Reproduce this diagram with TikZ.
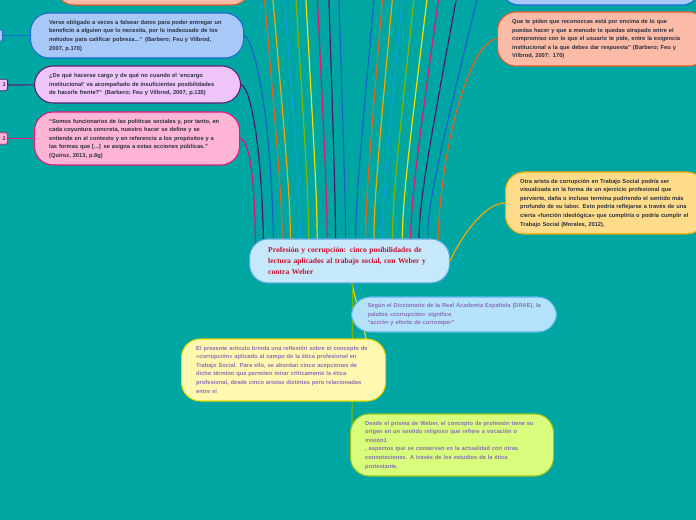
\documentclass[tikz,border=0pt]{standalone}
\usepackage{fontspec}
\setmainfont{Liberation Sans}
\newfontfamily\titlefont{Liberation Serif}
\usetikzlibrary{calc,backgrounds}
\definecolor{sea}{HTML}{00A6A1}
\definecolor{ink}{HTML}{2E3040}
\definecolor{lav}{HTML}{8A70B4}
\definecolor{rouge}{HTML}{C8102E}
\definecolor{salF}{HTML}{FBBBA6}\definecolor{salB}{HTML}{E95C2B}
\definecolor{bluF}{HTML}{A8C8F8}\definecolor{bluB}{HTML}{1D6BD6}
\definecolor{purF}{HTML}{EEC4F9}\definecolor{purB}{HTML}{5E2171}
\definecolor{pnkF}{HTML}{FDB4D5}\definecolor{pnkB}{HTML}{E3197D}
\definecolor{ambF}{HTML}{FEDC8A}\definecolor{ambB}{HTML}{F2A900}
\definecolor{ctrF}{HTML}{C5E9FB}\definecolor{ctrB}{HTML}{56A8E0}
\definecolor{skyF}{HTML}{B4E2FA}\definecolor{skyB}{HTML}{57B6EA}
\definecolor{ylwF}{HTML}{FFF8B0}\definecolor{ylwB}{HTML}{E8D900}
\definecolor{limF}{HTML}{D8FD7C}\definecolor{limB}{HTML}{9DC41B}
% connector colours
\definecolor{lnOr}{HTML}{E8601C}
\definecolor{lnAm}{HTML}{F5A800}
\definecolor{lnLb}{HTML}{10A0E0}
\definecolor{lnGr}{HTML}{7EB800}
\definecolor{lnYe}{HTML}{F2E000}
\definecolor{lnPk}{HTML}{E5137A}
\definecolor{lnPu}{HTML}{4E1A6E}
\definecolor{lnBl}{HTML}{1B63C6}
\newcommand{\mmtext}[1]{\begin{tabular}{@{}l@{}}#1\end{tabular}}

\begin{document}
\begin{tikzpicture}[x=0.75pt,y=-0.75pt,
  idea/.style={rectangle,rounded corners=14pt,line width=0.8pt,anchor=west,
               inner xsep=11pt,inner ysep=0pt,align=left,text=ink,
               font=\fontsize{4.3}{6.4}\selectfont\bfseries},
  tag/.style={rectangle,rounded corners=1.5pt,line width=0.6pt,anchor=east,
              inner xsep=1.5pt,inner ysep=0pt,minimum height=8.5pt,
              text width=8pt,align=right,
              font=\fontsize{4}{5}\selectfont\bfseries,text=purB},
  wire/.style={line width=0.9pt}
]
\useasboundingbox (0,0) rectangle (696,520);

% nodes cut by the top edge
\node[idea,draw=salB,fill=salF,text width=124pt,minimum height=34.5pt] (tl) at (55,-18) {};
\node[idea,draw=bluB,fill=bluF,text width=128pt,minimum height=33.75pt] (tr) at (500,-17.5) {};

% left branch
\node[idea,draw=bluB,fill=bluF,inner xsep=14pt,text width=131.75pt,minimum height=33.75pt] (verse) at (30,35.5)
  {\mmtext{Verse obligado a veces a falsear datos para poder entregar un\\
   beneficio a alguien que lo necesita, por lo inadecuado de los\\
   métodos para calificar pobreza...” (Barbero; Feu y Vilbrod,\\
   2007, p.170)}};
\node[idea,draw=purB,fill=purF,text width=132.5pt,minimum height=27.75pt] (deque) at (34,84.5)
  {\mmtext{¿De qué hacerse cargo y de qué no cuando el ‘encargo\\
   institucional’ va acompañado de insuficientes posibilidades\\
   de hacerle frente?” (Barbero; Feu y Vilbrod, 2007, p.135)}};
\node[idea,draw=pnkB,fill=pnkF,text width=131.75pt,minimum height=39.75pt] (somos) at (34,138.5)
  {\mmtext{“Somos funcionarios de las políticas sociales y, por tanto, en\\
   cada coyuntura concreta, nuestro hacer se define y se\\
   entiende en el contexto y en referencia a los propósitos y a\\
   las formas que [...] se asigna a estas acciones públicas.”\\
   (Quiroz, 2013, p.8g)}};

\node[tag,draw=bluB,fill=bluF] (t1) at (3,35.5) {};
\node[tag,draw=purB,fill=purF] (t3) at (8,85) {3};
\node[tag,draw=pnkB,fill=pnkF] (t2) at (8,138.5) {2};

% right branch
\node[idea,draw=salB,fill=salF,text width=135.5pt,minimum height=40.5pt] (quete) at (497,39)
  {\mmtext{Que te piden que reconozcas está por encima de lo que\\
   puedas hacer y que a menudo te quedas atrapado entre el\\
   compromiso con lo que el usuario te pide, entre la exigencia\\
   institucional a la que debes dar respuesta” (Barbero; Feu y\\
   Vilbrod, 2007: 170)}};
\node[idea,draw=ambB,fill=ambF,text width=128pt,minimum height=46.5pt] (otra) at (505,203)
  {\mmtext{Otra arista de corrupción en Trabajo Social podría ser\\
   visualizada en la forma de un ejercicio profesional que\\
   pervierte, daña o incluso termina pudriendo el sentido más\\
   profundo de su labor. Esto podría reflejarse a través de una\\
   cierta «función ideológica» que cumpliría o podría cumplir el\\
   Trabajo Social (Morales, 2012),}};

% central topic
\node[idea,draw=ctrB,fill=ctrF,inner xsep=14pt,text width=122pt,minimum height=33pt,
      text=rouge,font=\titlefont\bfseries\fontsize{5.7}{8.25}\selectfont] (ctr) at (249,261)
  {\mmtext{Profesión y corrupción: cinco posibilidades de\\
   lectura aplicados al trabajo social, con Weber y\\
   contra Weber}};

% lower branch
\node[idea,draw=skyB,fill=skyF,inner xsep=12pt,text width=129.75pt,minimum height=26.25pt,text=lav] (segun) at (351,314.5)
  {\mmtext{Según el Diccionario de la Real Academia Española (DRAE), la\\
   palabra «corrupción» significa\\
   “acción y efecto de corromper”}};
\node[idea,draw=ylwB,fill=ylwF,text width=131pt,minimum height=46.5pt,text=lav] (pres) at (181,370)
  {\mmtext{El presente artículo brinda una reflexión sobre el concepto de\\
   «corrupción» aplicado al campo de la ética profesional en\\
   Trabajo Social. Para ello, se abordan cinco acepciones de\\
   dicho término que permiten mirar críticamente la ética\\
   profesional, desde cinco aristas distintas pero relacionadas\\
   entre sí}};
\node[idea,draw=limB,fill=limF,text width=130.25pt,minimum height=46.5pt,text=lav] (desde) at (350,445)
  {\mmtext{Desde el prisma de Weber, el concepto de profesión tiene su\\
   origen en un sentido religioso que refiere a vocación o\\
   misión1\\
   , aspectos que se conservan en la actualidad con otras\\
   connotaciones. A través de los estudios de la ética\\
   protestante.}};

\begin{scope}[on background layer]
\fill[sea] (0,0) rectangle (696,520);
% branches leaving the top of the canvas
\foreach \xb/\xt/\col [count=\i] in {281.7/263.3/lnOr,290/271.7/lnAm,300/283.3/lnLb,
    308.3/295/lnGr,316.7/305/lnYe,326.7/316.7/lnPk,335/328.3/lnPu,345/338.3/lnBl,
    355/375/lnBl,365/383.3/lnOr,373.3/393.3/lnAm,381.7/403.3/lnLb,391.7/415/lnGr,
    401.7/428.3/lnYe,410/440/lnPk,418.3/458.3/lnPu,426.7/480/lnBl}{
  \coordinate (up\i) at ({\xb+1.5*(\xt-\xb)},-120);
  \draw[wire,\col] ($(ctr.center)+({\xb-349},0)$) .. controls ($(ctr.center)+({\xb-349},-60)$) .. (up\i);
}
\draw[wire,lnPk] (somos.east) .. controls (250,140) and ($(ctr.center)+(-94,-80)$) .. ($(ctr.center)+(-94,0)$);
\draw[wire,lnPu] (deque.east) .. controls (252,88) and ($(ctr.center)+(-86,-100)$) .. ($(ctr.center)+(-86,0)$);
\draw[wire,lnBl] (verse.east) .. controls (256,40) and ($(ctr.center)+(-76,-130)$) .. ($(ctr.center)+(-76,0)$);
\draw[wire,lnOr] ($(ctr.center)+(88,0)$) .. controls ($(ctr.center)+(88,-110)$) and (470,40) .. (quete.west);
\draw[wire,lnAm] (ctr.east) .. controls (462,235) and (485,203) .. (otra.west);
\draw[wire,lnLb] ($(ctr.center)+(7,0)$) .. controls ($(ctr.center)+(7,40)$) .. ($(segun.west)+(14,0)$);
\draw[wire,lnYe] ($(ctr.center)+(1,0)$) .. controls (350,300) and (366,318) .. ($(pres.east)+(-15,0)$);
\draw[wire,lnGr] ($(ctr.center)+(3,0)$) -- ($(desde.west)+(2,0)$);
\draw[wire,bluB] (t1) -- (verse);
\draw[wire,purB] (t3) -- (deque);
\draw[wire,pnkB] (t2) -- (somos);
\end{scope}
\end{tikzpicture}
\end{document}
